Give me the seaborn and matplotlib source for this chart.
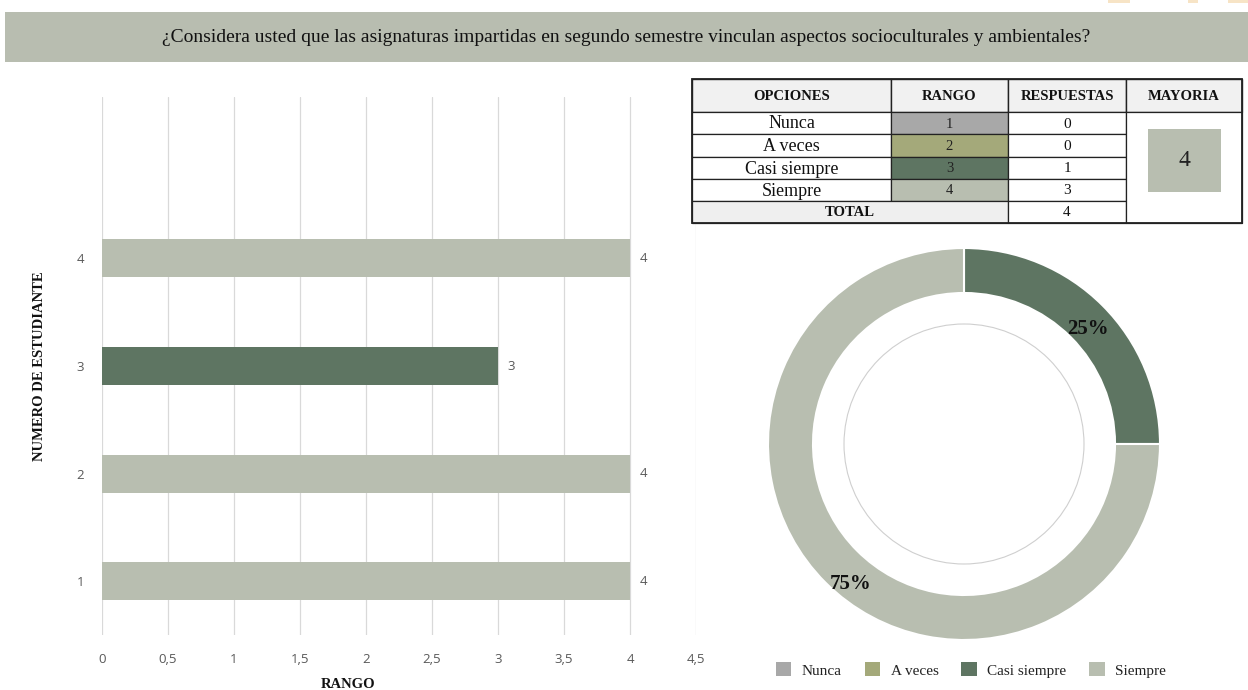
import matplotlib
matplotlib.use("Agg")
import matplotlib.pyplot as plt
from matplotlib.patches import Rectangle, Circle
import seaborn as sns
import pandas as pd

# ---------------- data ----------------
title = "¿Considera usted que las asignaturas impartidas en segundo semestre vinculan aspectos socioculturales y ambientales?"
students = [1, 2, 3, 4]
student_rango = [4, 4, 3, 4]
x_ticks = [0, 0.5, 1, 1.5, 2, 2.5, 3, 3.5, 4, 4.5]
x_tick_labels = ["0", "0,5", "1", "1,5", "2", "2,5", "3", "3,5", "4", "4,5"]
options = ["Nunca", "A veces", "Casi siempre", "Siempre"]
rango = [1, 2, 3, 4]
respuestas = [0, 0, 1, 3]
option_colors = ["#a8a8a8", "#a4a97a", "#5e7562", "#b8beb0"]

sns.set_style("white")
plt.rcParams["font.family"] = ["DejaVu Sans"]

W, H = 1248, 690
fig = plt.figure(figsize=(W / 100, H / 100), dpi=100)

def fx(px):
    return px / W

def fy(py):
    return 1 - py / H

# ---------------- bar chart ----------------
ax = fig.add_axes([fx(102), fy(635), fx(696) - fx(102), fy(97) - fy(635)])
ax.set_facecolor("none")
df = pd.DataFrame({"student": students, "rango": student_rango})
bar_colors = [option_colors[v - 1] for v in student_rango]
sns.barplot(data=df, x="rango", y="student", hue="student", orient="h",
            native_scale=True, palette=bar_colors, width=0.353, legend=False,
            saturation=1, ax=ax, linewidth=0)
ax.set_xlim(0, 4.5)
ax.set_ylim(0.5, 5.5)
ax.set_xticks(x_ticks)
ax.set_xticklabels(x_tick_labels)
ax.set_yticks(students)
ax.set_yticklabels([str(s) for s in students])
ax.tick_params(axis="both", length=0, labelsize=9.5, labelcolor="#595959")
ax.tick_params(axis="x", pad=13)
ax.tick_params(axis="y", pad=13)
for lab in ax.get_xticklabels() + ax.get_yticklabels():
    lab.set_family("Open Sans")
ax.grid(axis="x", color="#d9d9d9", lw=0.9)
ax.grid(axis="y", visible=False)
ax.set_axisbelow(True)
for s in ax.spines.values():
    s.set_visible(False)
for cont in ax.containers:
    ax.bar_label(cont, fmt="%d", padding=7, fontsize=9.5, color="#595959",
                 family="Open Sans")
ax.set_xlabel("RANGO", fontsize=10.5, weight="bold", family="Liberation Serif",
              color="#111111")
ax.set_ylabel("NUMERO DE ESTUDIANTE", fontsize=10.5, weight="bold",
              family="Liberation Serif", color="#111111")
ax.xaxis.set_label_coords((348 - 102) / 594, -(684 - 635) / 538)
ax.yaxis.set_label_coords((40 - 102) / 594, (635 - 366) / 538)
ax.xaxis.label.set_va("center")
ax.yaxis.label.set_va("center")

# ---------------- donut ----------------
R = 196
axp = fig.add_axes([fx(964 - R), fy(444 + R), 2 * R / W, 2 * R / H])
axp.set_facecolor("none")

def pct_fmt(p):
    return f"{p:.0f}%" if p > 0.5 else ""

wedges, texts, autotexts = axp.pie(
    respuestas, colors=option_colors, startangle=90, counterclock=False, radius=1,
    wedgeprops=dict(width=45 / R, edgecolor="white", linewidth=1.5),
    autopct=pct_fmt, pctdistance=0.885,
    textprops=dict(family="Liberation Serif", weight="bold", fontsize=15, color="#111111"))
# nudge labels to where the original places them (pixel offsets)
nudges = {2: (1, -8), 3: (9, -17)}
for i, t in enumerate(autotexts):
    if i in nudges:
        x, y = t.get_position()
        dx, dy = nudges[i]
        t.set_position((x + dx / R, y + dy / R))
axp.add_patch(Circle((0, 0), 120 / R, fill=False, edgecolor="#cfcfcf", lw=0.8))
axp.set_xlim(-1, 1)
axp.set_ylim(-1, 1)
axp.set_aspect("equal")
axp.axis("off")

leg = fig.legend(wedges, options, loc="center", bbox_to_anchor=(fx(971), fy(670)),
                 ncol=4, frameon=False, handlelength=1.0, handleheight=1.0,
                 handletextpad=0.7, columnspacing=1.5,
                 prop=dict(family="Liberation Serif", size=11))
for t in leg.get_texts():
    t.set_color("#222222")
for h in leg.legend_handles:
    h.set_edgecolor("none")

# ---------------- overlay (title band, table, decorations) ----------------
ov = fig.add_axes([0, 0, 1, 1])
ov.set_facecolor("none")
ov.set_xlim(0, W)
ov.set_ylim(H, 0)
ov.axis("off")

for x0, x1 in [(1108, 1130), (1188, 1198), (1228, 1248)]:
    ov.add_patch(Rectangle((x0, 0), x1 - x0, 3, color="#f7e4c6", lw=0))

ov.add_patch(Rectangle((5, 12), W - 5, 50, color="#b8bdb0", lw=0))
ov.text(626, 37, title, ha="center", va="center", fontsize=14,
        family="Liberation Serif", color="#111111")

cx = [692, 891, 1008, 1126, 1242]
ry = [79, 112, 134, 157, 179, 201, 223]
head_fill = "#f1f1f1"
headers = ["OPCIONES", "RANGO", "RESPUESTAS", "MAYORIA"]
for i, h in enumerate(headers):
    ov.add_patch(Rectangle((cx[i], ry[0]), cx[i + 1] - cx[i], ry[1] - ry[0],
                           facecolor=head_fill, edgecolor="#222222", lw=1.0))
    ov.text((cx[i] + cx[i + 1]) / 2, (ry[0] + ry[1]) / 2 + 1, h, ha="center", va="center",
            fontsize=10.5, weight="bold", family="Liberation Serif", color="#111111")

for r, (opt, rg, resp, col) in enumerate(zip(options, rango, respuestas, option_colors)):
    y0, y1 = ry[r + 1], ry[r + 2]
    ym = (y0 + y1) / 2 + 1
    ov.add_patch(Rectangle((cx[0], y0), cx[1] - cx[0], y1 - y0, facecolor="white",
                           edgecolor="#222222", lw=0.9))
    ov.text((cx[0] + cx[1]) / 2, ym, opt, ha="center", va="center", fontsize=13,
            family="Liberation Serif", color="#111111")
    ov.add_patch(Rectangle((cx[1], y0), cx[2] - cx[1], y1 - y0, facecolor=col,
                           edgecolor="#222222", lw=0.9))
    ov.text((cx[1] + cx[2]) / 2, ym, str(rg), ha="center", va="center", fontsize=10.5,
            family="Liberation Serif", color="#222222")
    ov.add_patch(Rectangle((cx[2], y0), cx[3] - cx[2], y1 - y0, facecolor="white",
                           edgecolor="#222222", lw=0.9))
    ov.text((cx[2] + cx[3]) / 2, ym, str(resp), ha="center", va="center", fontsize=11,
            family="Liberation Serif", color="#111111")

y0, y1 = ry[5], ry[6]
ov.add_patch(Rectangle((cx[0], y0), cx[2] - cx[0], y1 - y0, facecolor="#efefef",
                       edgecolor="#222222", lw=0.9))
ov.text((cx[0] + cx[2]) / 2, (y0 + y1) / 2 + 1, "TOTAL", ha="center", va="center",
        fontsize=10.5, weight="bold", family="Liberation Serif", color="#111111")
ov.add_patch(Rectangle((cx[2], y0), cx[3] - cx[2], y1 - y0, facecolor="white",
                       edgecolor="#222222", lw=0.9))
ov.text((cx[2] + cx[3]) / 2, (y0 + y1) / 2 + 1, str(sum(respuestas)), ha="center",
        va="center", fontsize=11, family="Liberation Serif", color="#111111")

ov.add_patch(Rectangle((cx[3], ry[1]), cx[4] - cx[3], ry[6] - ry[1], facecolor="white",
                       edgecolor="#222222", lw=0.9))
maj_idx = respuestas.index(max(respuestas))
ov.add_patch(Rectangle((1148, 129), 73, 63, facecolor=option_colors[maj_idx], lw=0))
ov.text(1184.5, 161, str(rango[maj_idx]), ha="center", va="center", fontsize=17,
        family="Liberation Serif", color="#222222")
ov.add_patch(Rectangle((cx[0], ry[0]), cx[4] - cx[0], ry[6] - ry[0], fill=False,
                       edgecolor="#222222", lw=1.3))

fig.savefig("out.png", dpi=100)
